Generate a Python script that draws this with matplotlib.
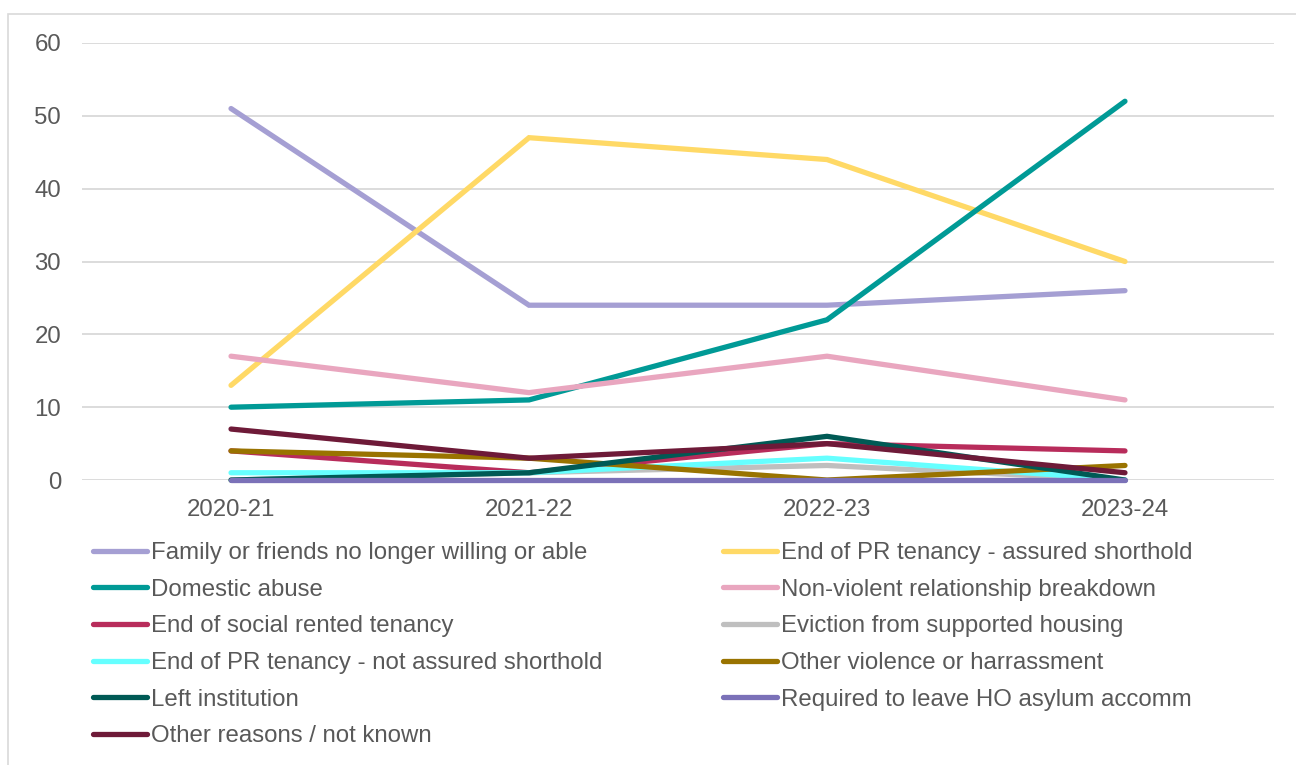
import matplotlib.pyplot as plt
from matplotlib.patches import Rectangle

plt.rcParams['font.family'] = ['Liberation Sans', 'DejaVu Sans']

years = ['2020-21', '2021-22', '2022-23', '2023-24']

family_friends = [51, 24, 24, 26]
end_pr_ast = [13, 47, 44, 30]
domestic_abuse = [10, 11, 22, 52]
non_violent = [17, 12, 17, 11]
end_social = [4, 1, 5, 4]
eviction_supported = [0, 1, 2, 0]
end_pr_not_ast = [1, 1, 3, 0]
other_violence = [4, 3, 0, 2]
left_institution = [0, 1, 6, 0]
ho_asylum = [0, 0, 0, 0]
other_reasons = [7, 3, 5, 1]

series = [
    ('Family or friends no longer willing or able', family_friends, '#A59FD3'),
    ('End of PR tenancy - assured shorthold', end_pr_ast, '#FFD966'),
    ('Domestic abuse', domestic_abuse, '#009A96'),
    ('Non-violent relationship breakdown', non_violent, '#E9A6BF'),
    ('End of social rented tenancy', end_social, '#B82C5B'),
    ('Eviction from supported housing', eviction_supported, '#BFBFBF'),
    ('End of PR tenancy - not assured shorthold', end_pr_not_ast, '#66FFFF'),
    ('Other violence or harrassment', other_violence, '#997300'),
    ('Left institution', left_institution, '#005A55'),
    ('Required to leave HO asylum accomm', ho_asylum, '#7B71B8'),
    ('Other reasons / not known', other_reasons, '#6E1A38'),
]

fs = 17.3

fig = plt.figure(figsize=(12.96, 7.65), dpi=100)
ax = fig.add_axes([0.0633, 0.3725, 0.9197, 0.5713])

x = range(len(years))
handles = []
for name, vals, col in series:
    h, = ax.plot(x, vals, color=col, lw=3.8, solid_capstyle='round',
                 solid_joinstyle='miter', label=name, clip_on=False)
    handles.append(h)

ax.set_xlim(-0.5, 3.5)
ax.set_ylim(0, 60)
ax.set_yticks(range(0, 61, 10))
ax.set_xticks(list(x))
ax.set_xticklabels(years)
ax.grid(axis='y', color='#D9D9D9', lw=1.3)
ax.set_axisbelow(True)
for s in ax.spines.values():
    s.set_visible(False)
ax.tick_params(length=0, labelsize=fs, colors='#595959')
ax.tick_params(axis='x', pad=14)
ax.tick_params(axis='y', pad=15)

# legend fills column-wise, so reorder to read row-wise
order = list(range(0, 11, 2)) + list(range(1, 11, 2))
leg = fig.legend([handles[i] for i in order],
                 [series[i][0] for i in order],
                 ncol=2, loc='upper left', bbox_to_anchor=(0.0718, 0.2915),
                 frameon=False, fontsize=fs, handlelength=2.25,
                 handletextpad=0.17, columnspacing=5.0, labelspacing=0.61,
                 borderaxespad=0, borderpad=0)
for t in leg.get_texts():
    t.set_color('#595959')

fig.add_artist(Rectangle((8 / 1296, -0.01), 1.0, 1 - 14 / 765 + 0.01,
                         transform=fig.transFigure, fill=False,
                         edgecolor='#D9D9D9', lw=1.2))

fig.savefig('out.png', dpi=100)
